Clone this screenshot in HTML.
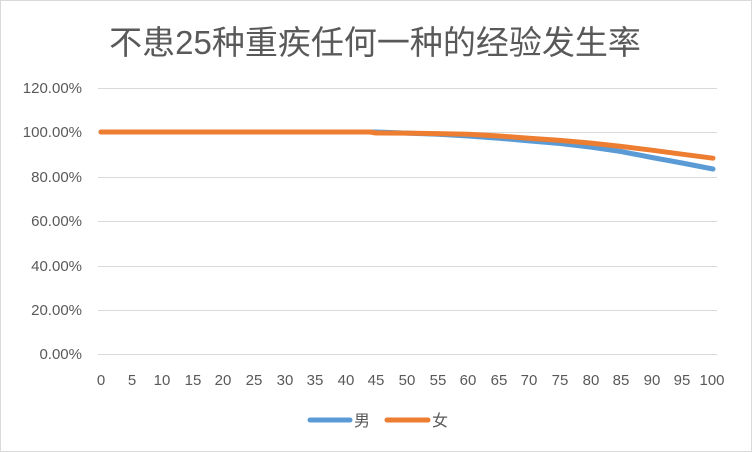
<!DOCTYPE html>
<html><head><meta charset="utf-8"><style>
body{margin:0;background:#fff}
svg{display:block}
text{font-family:"Liberation Sans","Noto Sans CJK SC",sans-serif;fill:#595959}
</style></head><body>
<svg width="752" height="452" viewBox="0 0 752 452">
<rect x="0.5" y="0.5" width="751" height="451" fill="#fff" stroke="#d9d9d9"/>
<text x="375" y="54" font-size="33" text-anchor="middle" fill="#595959">不患25种重疾任何一种的经验发生率</text>
<g stroke="#d9d9d9" stroke-width="1">
<line x1="98" x2="717" y1="88.5" y2="88.5"/>
<line x1="98" x2="717" y1="132.5" y2="132.5"/>
<line x1="98" x2="717" y1="177.5" y2="177.5"/>
<line x1="98" x2="717" y1="221.5" y2="221.5"/>
<line x1="98" x2="717" y1="266.5" y2="266.5"/>
<line x1="98" x2="717" y1="310.5" y2="310.5"/>
<line x1="98" x2="717" y1="354.5" y2="354.5"/>
</g>
<g font-size="15" text-anchor="end">
<text x="82" y="93">120.00%</text>
<text x="82" y="137">100.00%</text>
<text x="82" y="182">80.00%</text>
<text x="82" y="226">60.00%</text>
<text x="82" y="271">40.00%</text>
<text x="82" y="315">20.00%</text>
<text x="82" y="359">0.00%</text>
</g>
<g font-size="15" text-anchor="middle">
<text x="101" y="385">0</text><text x="132" y="385">5</text><text x="162" y="385">10</text><text x="193" y="385">15</text><text x="223" y="385">20</text><text x="254" y="385">25</text><text x="285" y="385">30</text><text x="315" y="385">35</text><text x="346" y="385">40</text><text x="376" y="385">45</text><text x="407" y="385">50</text><text x="438" y="385">55</text><text x="468" y="385">60</text><text x="499" y="385">65</text><text x="529" y="385">70</text><text x="560" y="385">75</text><text x="591" y="385">80</text><text x="621" y="385">85</text><text x="652" y="385">90</text><text x="682" y="385">95</text><text x="712" y="385">100</text>
</g>
<polyline fill="none" stroke="#5b9bd5" stroke-width="5" stroke-linecap="round" stroke-linejoin="round" points="101,132 376,132 407,133.1 438,134.2 468,136 499,138.2 529,140.9 560,143.5 591,147.1 621,151.5 652,157.5 682,163 713,169"/>
<polyline fill="none" stroke="#ed7d31" stroke-width="5" stroke-linecap="round" stroke-linejoin="round" points="101,132 370,132 376,133 407,133.1 438,133.6 468,134.2 499,136 529,138.2 560,140.4 591,143.1 621,146.4 652,150.2 682,154.2 713,158.2"/>
<line x1="310" x2="350" y1="420" y2="420" stroke="#5b9bd5" stroke-width="5" stroke-linecap="round"/>
<text x="354" y="426" font-size="16">男</text>
<line x1="387" x2="428" y1="420" y2="420" stroke="#ed7d31" stroke-width="5" stroke-linecap="round"/>
<text x="432" y="426" font-size="16">女</text>
</svg>
</body></html>
